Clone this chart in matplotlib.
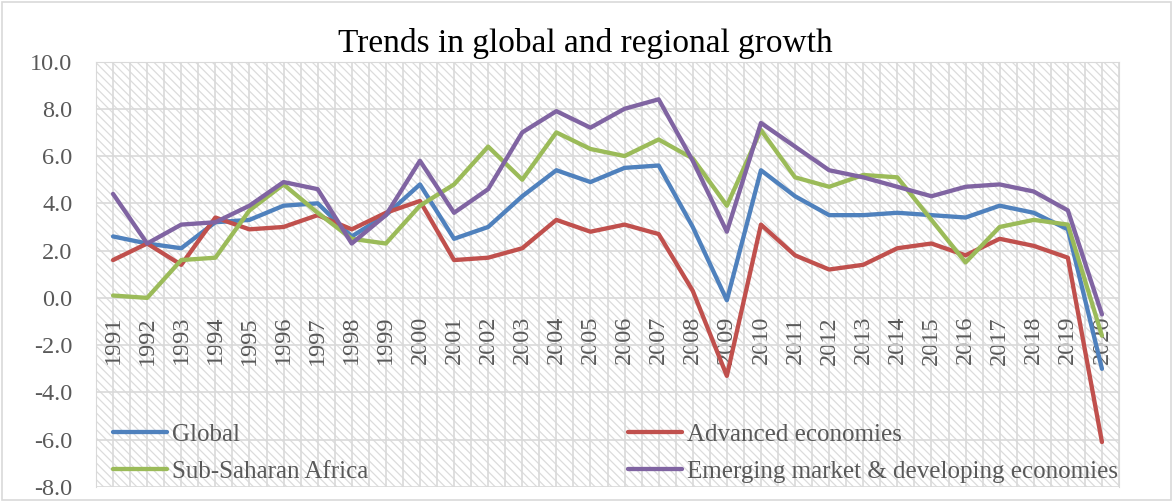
import matplotlib
matplotlib.use("Agg")
import matplotlib.pyplot as plt
from matplotlib.patches import Rectangle
from matplotlib.ticker import MultipleLocator, FormatStrFormatter

years = ["1991", "1992", "1993", "1994", "1995", "1996", "1997", "1998", "1999", "2000",
         "2001", "2002", "2003", "2004", "2005", "2006", "2007", "2008", "2009", "2010",
         "2011", "2012", "2013", "2014", "2015", "2016", "2017", "2018", "2019", "2020"]
global_growth = [2.6, 2.3, 2.1, 3.2, 3.3, 3.9, 4.0, 2.6, 3.5, 4.8,
                 2.5, 3.0, 4.3, 5.4, 4.9, 5.5, 5.6, 3.0, -0.1, 5.4,
                 4.3, 3.5, 3.5, 3.6, 3.5, 3.4, 3.9, 3.6, 2.9, -3.0]
advanced = [1.6, 2.3, 1.4, 3.4, 2.9, 3.0, 3.5, 2.9, 3.6, 4.1,
            1.6, 1.7, 2.1, 3.3, 2.8, 3.1, 2.7, 0.3, -3.3, 3.1,
            1.8, 1.2, 1.4, 2.1, 2.3, 1.8, 2.5, 2.2, 1.7, -6.1]
ssa = [0.1, 0.0, 1.6, 1.7, 3.7, 4.8, 3.6, 2.5, 2.3, 3.9,
       4.8, 6.4, 5.0, 7.0, 6.3, 6.0, 6.7, 5.9, 3.9, 7.1,
       5.1, 4.7, 5.2, 5.1, 3.3, 1.5, 3.0, 3.3, 3.1, -1.6]
emde = [4.4, 2.3, 3.1, 3.2, 3.9, 4.9, 4.6, 2.3, 3.5, 5.8,
        3.6, 4.6, 7.0, 7.9, 7.2, 8.0, 8.4, 5.8, 2.8, 7.4,
        6.4, 5.4, 5.1, 4.7, 4.3, 4.7, 4.8, 4.5, 3.7, -0.7]

series = [
    ("Global", global_growth, "#4F81BD"),
    ("Advanced economies", advanced, "#C0504D"),
    ("Sub-Saharan Africa", ssa, "#9BBB59"),
    ("Emerging market & developing economies", emde, "#8064A2"),
]

plt.rcParams["font.family"] = ["Liberation Serif", "DejaVu Serif"]
plt.rcParams["hatch.linewidth"] = 0.9
grey = "#595959"

fig = plt.figure(figsize=(11.73, 5.01), dpi=100)
fig.patch.set_facecolor("white")
fig.patches.append(Rectangle((0.002, 0.002), 0.996, 0.994, transform=fig.transFigure,
                             fill=False, edgecolor="#d9d9d9", lw=1.2))

ax = fig.add_axes([96 / 1173, 1 - 487 / 501, 1023 / 1173, 425.5 / 501])
ax.set_axisbelow(True)

# hatched plot area, like Excel's light downward diagonal fill
ax.add_patch(Rectangle((0, 0), 1, 1, transform=ax.transAxes, facecolor="white",
                       edgecolor="#dcdcdc", hatch="\\\\\\\\", lw=0, zorder=0))

x = range(len(years))
lines = {}
for name, vals, color in series:
    lines[name], = ax.plot(x, vals, color=color, lw=3.1, label=name,
                           solid_joinstyle="round", solid_capstyle="round", zorder=3)

ax.set_xlim(-0.5, len(years) - 0.5)
ax.set_ylim(-8, 10)
ax.yaxis.set_major_locator(MultipleLocator(2))
ax.yaxis.set_major_formatter(FormatStrFormatter("%.1f"))
ax.set_xticks(list(x))
ax.set_xticklabels(years)
ax.xaxis.set_minor_locator(MultipleLocator(0.5))

ax.grid(True, axis="y", color="#d9d9d9", lw=1.2)
ax.grid(True, axis="x", which="both", color="#d9d9d9", lw=1.2)

ax.spines["bottom"].set_position(("data", 0))
for s in ax.spines.values():
    s.set_color("#d9d9d9")
ax.spines["bottom"].set_visible(False)

ax.tick_params(axis="both", which="both", length=0, labelcolor=grey, labelsize=17.5)
ax.tick_params(axis="y", pad=17)
ax.tick_params(axis="x", pad=13, labelrotation=90)

fig.text(0.499, 0.913, "Trends in global and regional growth", ha="center", va="center",
         fontsize=24, color="black")

order = ["Global", "Sub-Saharan Africa", "Advanced economies",
         "Emerging market & developing economies"]
leg = ax.legend([lines[n] for n in order], order, ncol=2, loc="lower left",
                bbox_to_anchor=(0.0166, 0.009), frameon=False, fontsize=18,
                borderaxespad=0, borderpad=0, handlelength=2.16, handletextpad=0.2,
                columnspacing=10.4, labelspacing=0.6)
for t in leg.get_texts():
    t.set_color(grey)

fig.savefig("out.png", dpi=100)
